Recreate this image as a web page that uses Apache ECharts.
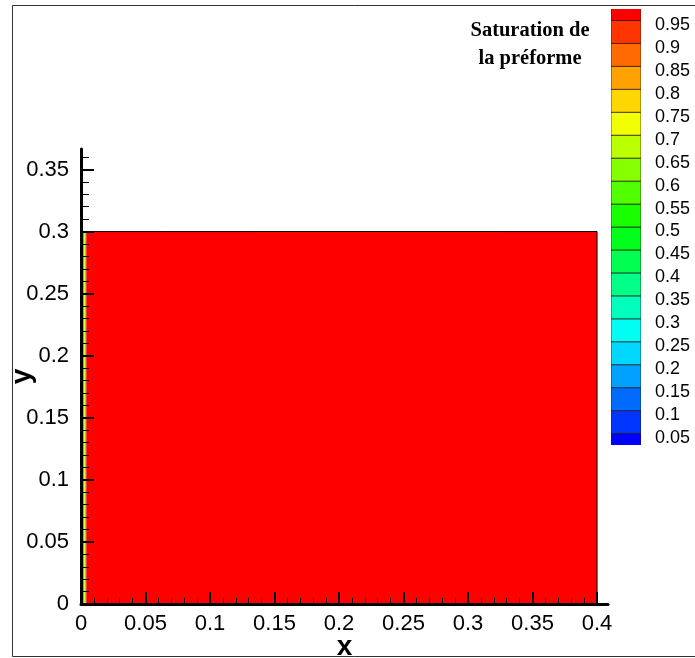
<!DOCTYPE html>
<html>
<head>
<meta charset="utf-8">
<script src="https://cdn.jsdelivr.net/npm/echarts@6/dist/echarts.min.js"></script>
<style>
html,body{margin:0;padding:0;background:#fff;}
#chart{width:695px;height:658px;}
</style>
</head>
<body>
<div id="chart"></div>
<script>
// ---- data ----
// cell boundaries along x (domain 0..0.4) and saturation of each column
var xEdges = [0, 0.0027, 0.0034, 0.0041, 0.4];
var saturation = [0.52, 0.72, 0.87, 0.98];
var yRange = [0, 0.3];

// contour levels (legend) and band colors (lowest band first)
var levelEdges = [0, 0.05, 0.1, 0.15, 0.2, 0.25, 0.3, 0.35, 0.4, 0.45, 0.5,
                  0.55, 0.6, 0.65, 0.7, 0.75, 0.8, 0.85, 0.9, 0.95, 1.0];
var levelLabels = [0.05, 0.1, 0.15, 0.2, 0.25, 0.3, 0.35, 0.4, 0.45, 0.5,
                   0.55, 0.6, 0.65, 0.7, 0.75, 0.8, 0.85, 0.9, 0.95];
var bandColors = ['#0000ff', '#0035ff', '#006bff', '#00a1ff', '#00d7ff',
                  '#00fff2', '#00ffbc', '#00ff86', '#00ff50', '#00ff1a',
                  '#1aff00', '#50ff00', '#86ff00', '#bcff00', '#f2ff00',
                  '#ffd700', '#ffa100', '#ff6b00', '#ff3500', '#ff0000'];

// axis ticks
var xMajorTicks = [0, 0.05, 0.1, 0.15, 0.2, 0.25, 0.3, 0.35, 0.4];
var xMinorTicks = [0.01, 0.02, 0.03, 0.04, 0.06, 0.07, 0.08, 0.09, 0.11, 0.12, 0.13, 0.14,
                   0.16, 0.17, 0.18, 0.19, 0.21, 0.22, 0.23, 0.24, 0.26, 0.27, 0.28, 0.29,
                   0.31, 0.32, 0.33, 0.34, 0.36, 0.37, 0.38, 0.39];
var yMajorTicks = [0, 0.05, 0.1, 0.15, 0.2, 0.25, 0.3, 0.35];
var yMinorTicks = [0.01, 0.02, 0.03, 0.04, 0.06, 0.07, 0.08, 0.09, 0.11, 0.12, 0.13, 0.14,
                   0.16, 0.17, 0.18, 0.19, 0.21, 0.22, 0.23, 0.24, 0.26, 0.27, 0.28, 0.29,
                   0.31, 0.32, 0.33, 0.34, 0.36];

// ---- build ----
var cells = [];
for (var i = 0; i < saturation.length; i++) {
  cells.push([xEdges[i], xEdges[i + 1], yRange[0], yRange[1], saturation[i]]);
}
var domain = [[xEdges[0], xEdges[xEdges.length - 1], yRange[0], yRange[1]]];
var bands = [];
var pieces = [];
for (var k = 0; k < bandColors.length; k++) {
  var lo = levelEdges[k], hi = levelEdges[k + 1];
  bands.push([0, 1, lo, hi, (lo + hi) / 2]);
  var p = {gte: lo, color: bandColors[k]};
  if (k === bandColors.length - 1) p.lte = hi; else p.lt = hi;
  pieces.push(p);
}

function rectItem(params, api) {
  var a = api.coord([api.value(0), api.value(3)]);
  var b = api.coord([api.value(1), api.value(2)]);
  return {
    type: 'rect',
    shape: {x: a[0], y: a[1], width: b[0] - a[0], height: b[1] - a[1]},
    style: {fill: api.visual('color')}
  };
}
function legendItem(params, api) {
  var a = api.coord([api.value(0), api.value(3)]);
  var b = api.coord([api.value(1), api.value(2)]);
  return {
    type: 'rect',
    shape: {x: a[0], y: a[1], width: b[0] - a[0], height: b[1] - a[1]},
    style: {fill: api.visual('color'), stroke: 'rgba(40,20,20,0.7)', lineWidth: 1}
  };
}
function domainItem(params, api) {
  var a = api.coord([api.value(0), api.value(3)]);
  var b = api.coord([api.value(1), api.value(2)]);
  return {
    type: 'rect',
    shape: {x: a[0], y: a[1], width: b[0] - a[0], height: b[1] - a[1]},
    style: {fill: 'none', stroke: '#000', lineWidth: 1}
  };
}

var tickFont = {fontFamily: 'Liberation Sans, Arial, sans-serif', fontSize: 22, color: '#000'};
var fmt = function (v) { return String(+v.toFixed(4)); };

var chart = echarts.init(document.getElementById('chart'), null, {renderer: 'canvas'});
chart.setOption({
  animation: false,
  backgroundColor: '#fff',
  title: {
    text: 'Saturation de\nla préforme',
    left: 530, top: 17, padding: 0,
    textAlign: 'center',
    textStyle: {fontFamily: 'Liberation Serif, Times New Roman, serif', fontWeight: 'bold',
                fontSize: 20.5, lineHeight: 28, color: '#000'}
  },
  graphic: [{
    type: 'rect', z: -10, silent: true,
    shape: {x: 12.5, y: 5.5, width: 700, height: 651},
    style: {fill: 'none', stroke: '#333', lineWidth: 1}
  }],
  grid: [
    {left: 81, right: 87, top: 149, bottom: 54, containLabel: false, outerBoundsMode: 'none'},
    {left: 611, top: 9, width: 30, height: 436, containLabel: false, outerBoundsMode: 'none'}
  ],
  visualMap: {
    type: 'piecewise', show: false, dimension: 4, seriesIndex: [0, 2],
    pieces: pieces
  },
  xAxis: [
    {
      type: 'value', gridIndex: 0, min: 0, max: 0.4085, z: 10,
      name: 'x', nameLocation: 'middle', nameGap: 29, nameMoveOverlap: false,
      nameTextStyle: {fontFamily: 'Liberation Sans, Arial, sans-serif', fontWeight: 'bold', fontSize: 28, color: '#000'},
      axisLine: {show: true, onZero: false, lineStyle: {color: '#000', width: 3}},
      axisTick: {show: true, inside: true, length: 12, customValues: xMajorTicks, lineStyle: {color: '#000', width: 2}},
      axisLabel: Object.assign({customValues: xMajorTicks, margin: 9, formatter: fmt}, tickFont),
      splitLine: {show: false}
    },
    {
      type: 'value', gridIndex: 0, min: 0, max: 0.4085, z: 10, position: 'bottom',
      axisLine: {show: false},
      axisTick: {show: true, inside: true, length: 6, customValues: xMinorTicks, lineStyle: {color: '#000', width: 1}},
      axisLabel: {show: false},
      splitLine: {show: false}
    },
    {
      type: 'value', gridIndex: 1, min: 0, max: 1, show: false
    }
  ],
  yAxis: [
    {
      type: 'value', gridIndex: 0, min: 0, max: 0.3665, z: 10,
      name: 'y', nameLocation: 'middle', nameGap: 45, nameMoveOverlap: false,
      nameTextStyle: {fontFamily: 'Liberation Sans, Arial, sans-serif', fontWeight: 'bold', fontSize: 28, color: '#000'},
      axisLine: {show: true, onZero: false, lineStyle: {color: '#000', width: 3}},
      axisTick: {show: true, inside: true, length: 13, customValues: yMajorTicks, lineStyle: {color: '#000', width: 2}},
      axisLabel: Object.assign({customValues: yMajorTicks, margin: 12, formatter: fmt}, tickFont),
      splitLine: {show: false}
    },
    {
      type: 'value', gridIndex: 0, min: 0, max: 0.3665, z: 10, position: 'left',
      axisLine: {show: false},
      axisTick: {show: true, inside: true, length: 8, customValues: yMinorTicks, lineStyle: {color: '#000', width: 1}},
      axisLabel: {show: false},
      splitLine: {show: false}
    },
    {
      type: 'value', gridIndex: 1, min: 0.025, max: 0.975, position: 'right',
      axisLine: {show: false},
      axisTick: {show: false},
      axisLabel: {customValues: levelLabels, margin: 14, verticalAlign: 'top', lineHeight: 9, formatter: fmt,
                  fontFamily: 'Liberation Sans, Arial, sans-serif', fontSize: 18, color: '#000'},
      splitLine: {show: false}
    }
  ],
  series: [
    {
      type: 'custom', name: 'saturation', xAxisIndex: 0, yAxisIndex: 0, z: 1,
      renderItem: rectItem, encode: {x: [0, 1], y: [2, 3]}, data: cells
    },
    {
      type: 'custom', name: 'domain', xAxisIndex: 0, yAxisIndex: 0, z: 2,
      renderItem: domainItem, encode: {x: [0, 1], y: [2, 3]}, data: domain
    },
    {
      type: 'custom', name: 'legend', xAxisIndex: 2, yAxisIndex: 2, z: 1, clip: true,
      renderItem: legendItem, encode: {x: [0, 1], y: [2, 3]}, data: bands
    }
  ]
});
</script>
</body>
</html>
